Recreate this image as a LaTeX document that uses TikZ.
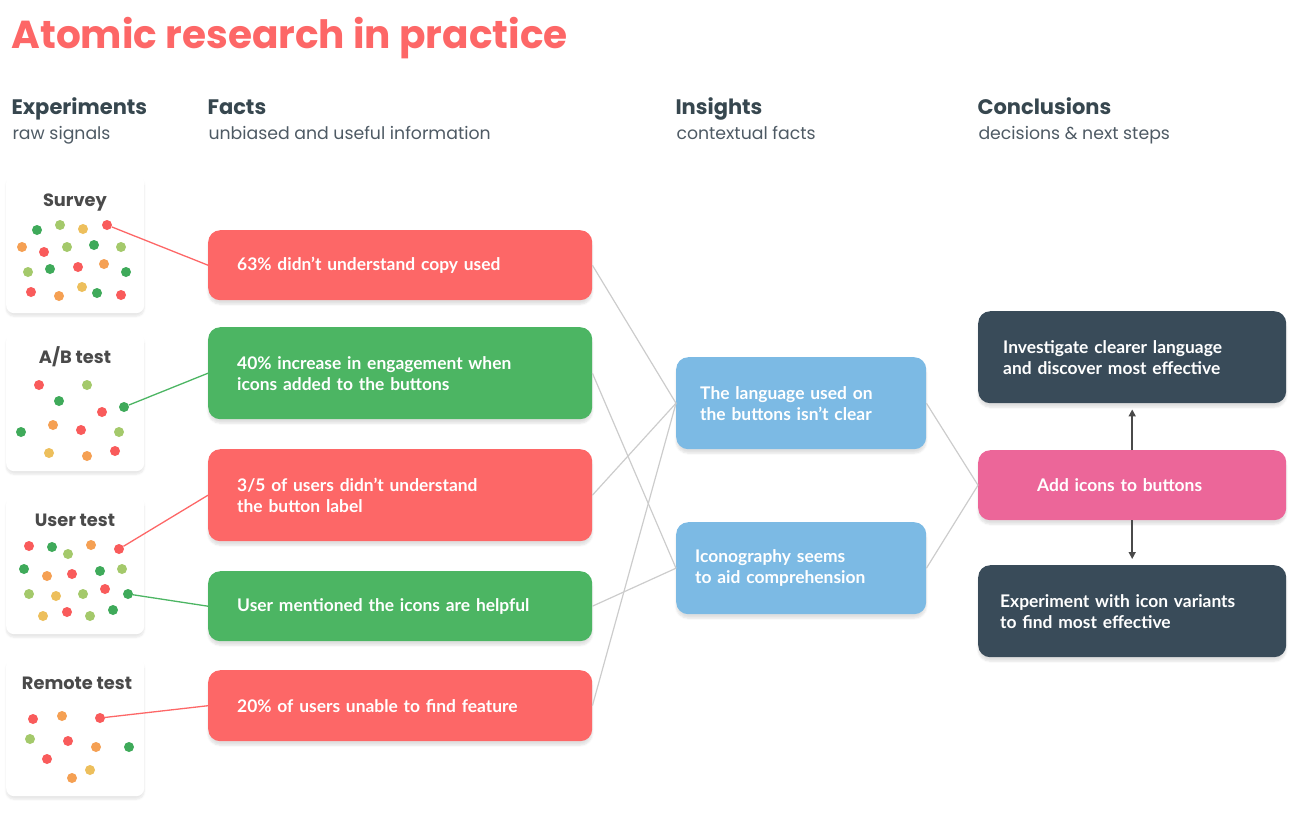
\documentclass[tikz,border=0pt]{standalone}
\usepackage{fontspec}
\setmainfont{Lato}
\newfontfamily\headfont{Poppins}
\usetikzlibrary{arrows.meta,shadows.blur}

\definecolor{factred}{HTML}{FD6767}
\definecolor{factgreen}{HTML}{4CB563}
\definecolor{insightblue}{HTML}{7CBAE4}
\definecolor{actionpink}{HTML}{EC6699}
\definecolor{darkslate}{HTML}{394B59}
\definecolor{headtext}{HTML}{37474F}
\definecolor{subtext}{HTML}{4E5A64}
\definecolor{cardtext}{HTML}{4A4A4A}
\definecolor{linkgray}{HTML}{CCCCCC}
\definecolor{dR}{HTML}{F95B5B}
\definecolor{dG}{HTML}{3FAA5A}
\definecolor{dL}{HTML}{A4C96B}
\definecolor{dY}{HTML}{EDBF5C}
\definecolor{dO}{HTML}{F5A053}

\tikzset{
  box/.style={rounded corners=12pt, anchor=north west, inner ysep=0pt, align=left,
    text=white, font=\bfseries\fontsize{17.4}{21}\selectfont,
    blur shadow={shadow blur steps=6, shadow xshift=0pt, shadow yshift=-4pt, shadow opacity=12}},
  card/.style={rounded corners=8pt, anchor=north west, fill=white, minimum width=138pt,
    minimum height=138pt, inner sep=0pt,
    blur shadow={shadow blur steps=6, shadow xshift=0pt, shadow yshift=-3pt, shadow opacity=10}},
  cardtitle/.style={anchor=base, text=cardtext, font=\headfont\bfseries\fontsize{17.8}{20}\selectfont},
  head/.style={anchor=base west, text=headtext, font=\headfont\bfseries\fontsize{21}{24}\selectfont},
  sub/.style={anchor=base west, text=subtext, font=\headfont\fontsize{17.3}{20}\selectfont},
  dot/.style={circle, inner sep=0pt, minimum size=10pt},
  link/.style={draw=linkgray, line width=1.2pt},
  wire/.style={line width=1.3pt},
}

\begin{document}
\begin{tikzpicture}[x=1pt,y=-1pt]
\useasboundingbox (0,0) rectangle (1302,831);

\node[anchor=base west, text=factred, font=\headfont\bfseries\fontsize{39}{44}\selectfont] (title) at (8,48) {Atomic research in practice};

\node[head] (hexp) at (8,114) {Experiments};
\node[sub] (sexp) at (9,139) {raw signals};
\node[head] (hfact) at (204,114) {Facts};
\node[sub] (sfact) at (205,139) {unbiased and useful information};
\node[head] (hins) at (672,114) {Insights};
\node[sub] (sins) at (673,139) {contextual facts};
\node[head] (hcon) at (974,114) {Conclusions};
\node[sub] (scon) at (975,139) {decisions \& next steps};

\node[card] (e1) at (6,175) {};
\node[card] (e2) at (6,333) {};
\node[card] (e3) at (6,496) {};
\node[card] (e4) at (6,658) {};
\node[cardtitle] (t1) at (75,206) {Survey};
\node[cardtitle] (t2) at (75,363) {A/B test};
\node[cardtitle] (t3) at (75,526) {User test};
\node[cardtitle] (t4) at (77,689) {Remote test};

\foreach \x/\y/\c [count=\i] in {37/230/dG, 60/225/dL, 83/229/dY, 107/225/dR,
  22/247/dO, 44/252/dR, 67/247/dL, 94/245/dG, 121/247/dL,
  28/272/dL, 50/269/dG, 78/267/dR, 104/264/dO, 126/272/dG,
  31/292/dR, 59/296/dO, 82/287/dY, 97/293/dG, 121/295/dR}
  \node[dot, fill=\c] (sv\i) at (\x,\y) {};

\foreach \x/\y/\c [count=\i] in {39/385/dR, 87/385/dL, 59/401/dG, 102/412/dR, 124/407/dG,
  21/432/dG, 53/425/dO, 81/430/dR, 119/432/dL,
  49/453/dY, 87/456/dO, 115/451/dR}
  \node[dot, fill=\c] (ab\i) at (\x,\y) {};

\foreach \x/\y/\c [count=\i] in {29/546/dR, 52/547/dG, 68/554/dL, 91/545/dO, 119/549/dR,
  24/569/dG, 47/576/dO, 72/574/dR, 100/571/dG, 122/569/dL,
  29/594/dL, 56/596/dY, 83/594/dL, 105/589/dR, 128/594/dG,
  43/616/dY, 67/612/dR, 90/616/dL, 113/610/dG}
  \node[dot, fill=\c] (ut\i) at (\x,\y) {};

\foreach \x/\y/\c [count=\i] in {33/719/dR, 62/716/dO, 100/718/dR,
  30/739/dL, 68/741/dR, 96/747/dO, 129/747/dG,
  47/759/dR, 90/770/dY, 72/778/dO}
  \node[dot, fill=\c] (rt\i) at (\x,\y) {};

\node[box, fill=factred, text width=326pt, inner xsep=29pt, minimum height=70pt] (f1) at (208,230) {63\% didn’t understand copy used};
\node[box, fill=factgreen, text width=326pt, inner xsep=29pt, minimum height=92pt] (f2) at (208,327) {40\% increase in engagement when\\icons added to the buttons};
\node[box, fill=factred, text width=326pt, inner xsep=29pt, minimum height=92pt] (f3) at (208,449) {3/5 of users didn’t understand\\the button label};
\node[box, fill=factgreen, text width=326pt, inner xsep=29pt, minimum height=70pt] (f4) at (208,571) {User mentioned the icons are helpful};
\node[box, fill=factred, text width=326pt, inner xsep=29pt, minimum height=71pt] (f5) at (208,670) {20\% of users unable to find feature};

\node[box, fill=insightblue, text width=202pt, inner xsep=24pt, minimum height=92pt] (i1) at (676,357) {The language used on\\the buttons isn’t clear};
\node[box, fill=insightblue, text width=212pt, inner xsep=19pt, minimum height=92pt] (i2) at (676,522) {Iconography seems\\to aid comprehension};

\node[box, fill=darkslate, text width=258pt, inner xsep=25pt, minimum height=92pt] (c1) at (978,311) {Investigate clearer language\\and discover most effective};
\node[box, fill=actionpink, text width=190pt, inner xsep=59pt, minimum height=70pt] (c2) at (978,450) {Add icons to buttons};
\node[box, fill=darkslate, text width=264pt, inner xsep=22pt, minimum height=92pt] (c3) at (978,565) {Experiment with icon variants\\to find most effective};

\path[draw=factred,wire] (sv4) -- (f1.west);
\path[draw=factgreen,wire] (ab5) -- (f2.west);
\path[draw=factred,wire] (ut5) -- (f3.west);
\path[draw=factgreen,wire] (ut15) -- (f4.west);
\path[draw=factred,wire] (rt3) -- (f5.west);

\path[link] (f1.east) -- (i1.west);
\path[link] (f2.east) -- (i2.west);
\path[link] (f3.east) -- (i1.west);
\path[link] (f4.east) -- (i2.west);
\path[link] (f5.east) -- (i1.west);
\path[link] (i1.east) -- (c2.west);
\path[link] (i2.east) -- (c2.west);

\path[draw=cardtext,line width=1.5pt,-{Triangle[length=7pt,width=7pt]},shorten >=6pt] (c2) -- (c1);
\path[draw=cardtext,line width=1.5pt,-{Triangle[length=7pt,width=7pt]},shorten >=6pt] (c2) -- (c3);
\end{tikzpicture}
\end{document}
